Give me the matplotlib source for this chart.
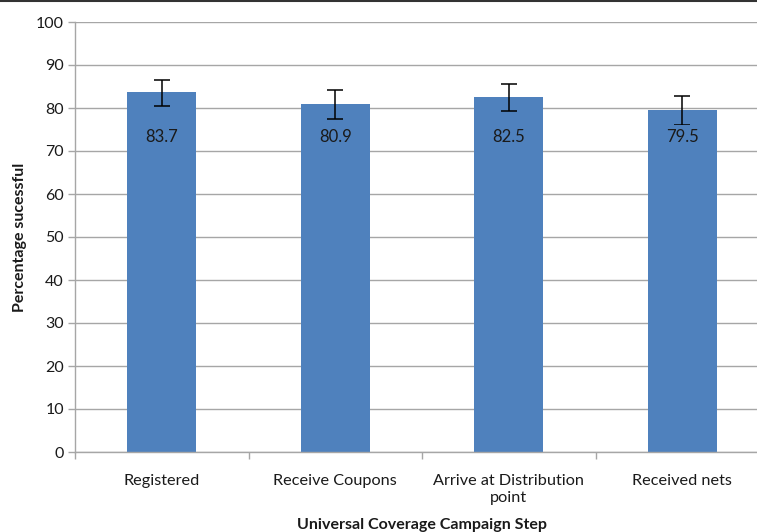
import numpy as np
import matplotlib.pyplot as plt
from matplotlib.lines import Line2D

# data
steps = ['Registered', 'Receive Coupons', 'Arrive at Distribution\npoint', 'Received nets']
pct = [83.7, 80.9, 82.5, 79.5]
err_low = [3.2, 3.5, 3.1, 3.5]
err_high = [2.8, 3.3, 3.0, 3.3]
yticks = [0, 10, 20, 30, 40, 50, 60, 70, 80, 90, 100]

bar_color = '#4F81BD'
grid_color = '#A6A6A6'
font = ['Lato', 'DejaVu Sans']
plt.rcParams['font.family'] = font

fig = plt.figure(figsize=(7.57, 5.32), dpi=100)
ax = fig.add_axes([75 / 757, 80 / 532, 694 / 757, 430 / 532])

x = np.arange(len(steps))
ax.bar(x, pct, width=0.4, color=bar_color, zorder=2)
ax.errorbar(x, pct, yerr=[err_low, err_high], fmt='none', ecolor='black',
            elinewidth=1.1, capsize=5.8, capthick=1.1, zorder=3)

# data labels inside the bars, on a bar coloured box
for xi, v in zip(x, pct):
    ax.text(xi, 73.3, f'{v:.1f}', ha='center', va='center', fontsize=12,
            color='#1a1a1a', zorder=4,
            bbox=dict(boxstyle='square,pad=0.22', fc=bar_color, ec='none'))

ax.set_xlim(-0.5, len(steps) - 0.5)
ax.set_ylim(0, 100)
ax.set_yticks(yticks)
ax.yaxis.grid(True, color=grid_color, linewidth=1.0, zorder=0)
ax.set_axisbelow(True)

ax.set_xticks(x)
ax.set_xticklabels(steps, fontsize=11.7, color='#1a1a1a', linespacing=1.25)
ax.set_xticks(np.arange(-0.5, len(steps)), minor=True)
ax.tick_params(axis='x', which='major', length=0, pad=16)
ax.tick_params(axis='x', which='minor', length=5, color=grid_color, width=1)
ax.tick_params(axis='y', length=5, color=grid_color, width=1, labelsize=11.5,
               labelcolor='#1a1a1a', pad=3)

for side in ['top', 'right']:
    ax.spines[side].set_visible(False)
for side in ['left', 'bottom']:
    ax.spines[side].set_color(grid_color)
    ax.spines[side].set_linewidth(1.0)

ax.set_ylabel('Percentage sucessful', fontsize=11.5, fontweight='bold', color='#1a1a1a')
ax.yaxis.set_label_coords(-0.079, 0.5)
ax.set_xlabel('Universal Coverage Campaign Step', fontsize=11.5, fontweight='bold',
              color='#1a1a1a')
ax.xaxis.set_label_coords(0.5, -0.17)
ax.xaxis.label.set_va('center')
ax.yaxis.label.set_va('center')

# dark frame line along the top of the picture
fig.add_artist(Line2D([0, 1], [0.998, 0.998], transform=fig.transFigure,
                      color='#333333', linewidth=1.5))

fig.savefig('out.png', dpi=100)
